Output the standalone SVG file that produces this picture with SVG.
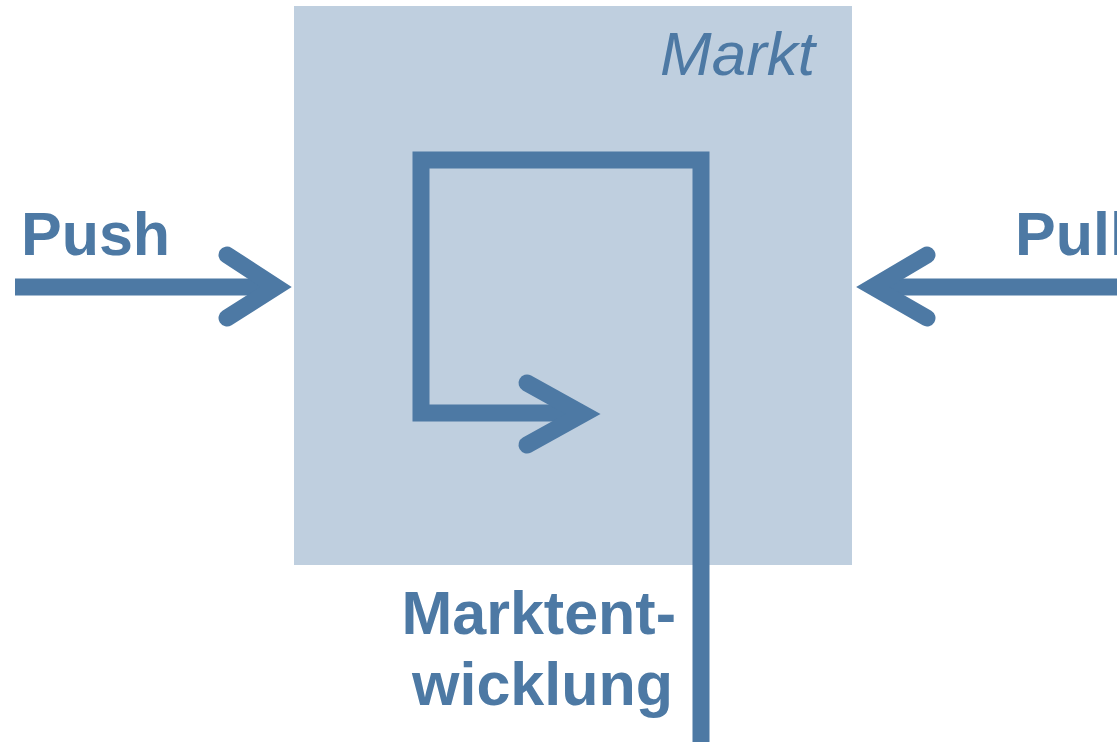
<svg xmlns="http://www.w3.org/2000/svg" width="1117" height="742" viewBox="0 0 1117 742">
<style>
.ln{fill:none;stroke:#4d79a4;stroke-width:17;stroke-linecap:butt;stroke-linejoin:miter}
.hd{fill:none;stroke:#4d79a4;stroke-width:17;stroke-linecap:round;stroke-linejoin:miter}
.lbl{font-family:"Liberation Sans",Arial,sans-serif;font-weight:bold;font-size:61px;fill:#4d79a4}
</style>
<rect width="1117" height="742" fill="#ffffff"/>
<g id="markt">
<rect x="294" y="6" width="558" height="559" fill="#bfcfdf"/>
<text x="815" y="75" text-anchor="end" font-family="'Liberation Sans',Arial,sans-serif" font-style="italic" font-size="62" fill="#4d79a4">Markt</text>
</g>
<g id="push">
<text class="lbl" x="21" y="255">Push</text>
</g>
<g id="pull">
<text class="lbl" x="1015" y="255">Pull</text>
</g>
<g id="marktentwicklung">
<text class="lbl" x="676" y="634" text-anchor="end">Marktent-</text>
<text class="lbl" x="673" y="705" text-anchor="end">wicklung</text>
</g>
<g id="connectors">
<path class="ln" d="M15 287H276"/>
<path class="hd" d="M227 255L276 287L227 318"/>
<path class="ln" d="M1117 287H873"/>
<path class="hd" d="M927 255L873 287L927 318"/>
<path class="ln" d="M701 742V160H421V413H583"/>
<path class="hd" d="M527 383L583 414L527 445"/>
</g>
</svg>
